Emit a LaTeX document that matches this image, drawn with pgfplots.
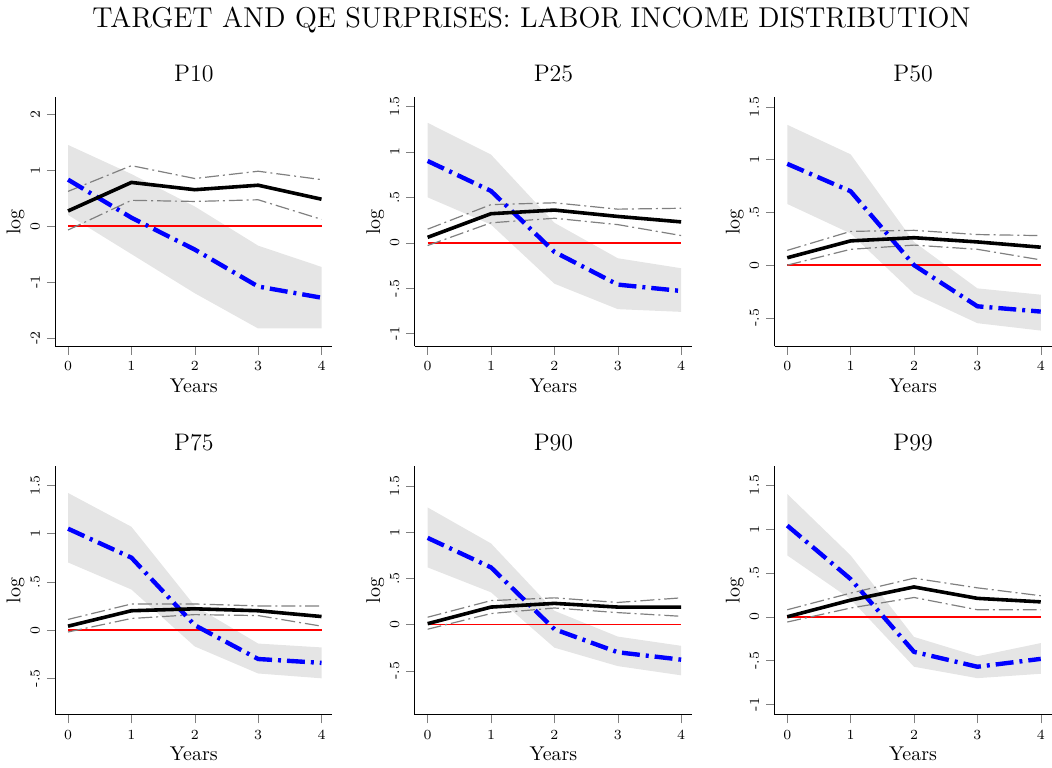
\documentclass[border=0pt]{standalone}
\usepackage{pgfplots}
\pgfplotsset{compat=1.18}
\usepgfplotslibrary{groupplots}
\definecolor{band}{RGB}{229,229,229}
\definecolor{ci}{RGB}{128,128,128}
\pgfplotsset{
 panel/.style={
  scale only axis, width=139pt, height=125pt,
  axis x line*=bottom, axis y line*=left,
  xmin=-0.2, xmax=4.17, xtick={0,1,2,3,4},
  tick align=outside, tick pos=lower,
  ticklabel style={font=\scriptsize},
  y tick label style={rotate=90, anchor=south},
  xlabel={Years}, ylabel={log},
  xlabel style={font=\normalsize, yshift=3pt},
  ylabel style={font=\normalsize, yshift=-4pt},
  title style={font=\large, yshift=-2pt},
  axis line style={black, line width=0.5pt},
 },
 bandst/.style={fill=band, draw=none, forget plot},
 cist/.style={draw=ci, line width=0.6pt, dash pattern=on 7pt off 2pt on 1pt off 2pt},
 bluest/.style={draw=blue, line width=2.2pt, dash pattern=on 9pt off 3pt on 1.5pt off 3pt},
 blackst/.style={draw=black, line width=1.8pt},
 redst/.style={color=red, line width=0.8pt, mark=none},
}
\begin{document}
\begin{tikzpicture}
\begin{groupplot}[group style={group size=3 by 2, horizontal sep=41.5pt, vertical sep=60pt}, panel]
% P10
\nextgroupplot[title={P10}, ymin=-2.15, ymax=2.3, ytick={-2,-1,0,1,2}, yticklabels={-2,-1,0,1,2}]
\addplot[bandst] coordinates {(0,1.45)(1,0.93)(2,0.35)(3,-0.35)(4,-0.73)(4,-1.83)(3,-1.83)(2,-1.2)(1,-0.5)(0,0.2)};
\addplot[redst] coordinates {(0,0)(4,0)};
\addplot[cist] coordinates {(0,0.62)(1,1.08)(2,0.85)(3,0.98)(4,0.83)};
\addplot[cist] coordinates {(0,-0.07)(1,0.46)(2,0.44)(3,0.47)(4,0.12)};
\addplot[bluest] coordinates {(0,0.83)(1,0.15)(2,-0.42)(3,-1.08)(4,-1.28)};
\addplot[blackst] coordinates {(0,0.27)(1,0.78)(2,0.65)(3,0.73)(4,0.48)};
% P25
\nextgroupplot[title={P25}, ymin=-1.14, ymax=1.6, ytick={-1,-0.5,0,0.5,1,1.5}, yticklabels={-1,-.5,0,.5,1,1.5}]
\addplot[bandst] coordinates {(0,1.32)(1,0.97)(2,0.22)(3,-0.17)(4,-0.28)(4,-0.76)(3,-0.73)(2,-0.45)(1,0.2)(0,0.5)};
\addplot[redst] coordinates {(0,0)(4,0)};
\addplot[cist] coordinates {(0,0.15)(1,0.42)(2,0.44)(3,0.37)(4,0.38)};
\addplot[cist] coordinates {(0,-0.03)(1,0.22)(2,0.27)(3,0.20)(4,0.08)};
\addplot[bluest] coordinates {(0,0.9)(1,0.57)(2,-0.1)(3,-0.46)(4,-0.53)};
\addplot[blackst] coordinates {(0,0.06)(1,0.32)(2,0.36)(3,0.29)(4,0.23)};
% P50
\nextgroupplot[title={P50}, ymin=-0.77, ymax=1.59, ytick={-0.5,0,0.5,1,1.5}, yticklabels={-.5,0,.5,1,1.5}]
\addplot[bandst] coordinates {(0,1.33)(1,1.05)(2,0.22)(3,-0.22)(4,-0.28)(4,-0.62)(3,-0.55)(2,-0.27)(1,0.3)(0,0.58)};
\addplot[redst] coordinates {(0,0)(4,0)};
\addplot[cist] coordinates {(0,0.14)(1,0.32)(2,0.33)(3,0.29)(4,0.28)};
\addplot[cist] coordinates {(0,0.0)(1,0.15)(2,0.19)(3,0.15)(4,0.05)};
\addplot[bluest] coordinates {(0,0.96)(1,0.7)(2,0.0)(3,-0.39)(4,-0.44)};
\addplot[blackst] coordinates {(0,0.07)(1,0.23)(2,0.26)(3,0.22)(4,0.17)};
% P75
\nextgroupplot[title={P75}, ymin=-0.88, ymax=1.7, ytick={-0.5,0,0.5,1,1.5}, yticklabels={-.5,0,.5,1,1.5}]
\addplot[bandst] coordinates {(0,1.42)(1,1.07)(2,0.25)(3,-0.14)(4,-0.18)(4,-0.5)(3,-0.45)(2,-0.17)(1,0.42)(0,0.7)};
\addplot[redst] coordinates {(0,0)(4,0)};
\addplot[cist] coordinates {(0,0.11)(1,0.27)(2,0.27)(3,0.25)(4,0.25)};
\addplot[cist] coordinates {(0,-0.02)(1,0.12)(2,0.16)(3,0.15)(4,0.04)};
\addplot[bluest] coordinates {(0,1.05)(1,0.75)(2,0.05)(3,-0.3)(4,-0.34)};
\addplot[blackst] coordinates {(0,0.04)(1,0.2)(2,0.22)(3,0.2)(4,0.14)};
% P90
\nextgroupplot[title={P90}, ymin=-0.98, ymax=1.72, ytick={-0.5,0,0.5,1,1.5}, yticklabels={-.5,0,.5,1,1.5}]
\addplot[bandst] coordinates {(0,1.27)(1,0.88)(2,0.15)(3,-0.13)(4,-0.23)(4,-0.55)(3,-0.45)(2,-0.25)(1,0.35)(0,0.62)};
\addplot[redst] coordinates {(0,0)(4,0)};
\addplot[cist] coordinates {(0,0.08)(1,0.26)(2,0.29)(3,0.24)(4,0.29)};
\addplot[cist] coordinates {(0,-0.05)(1,0.12)(2,0.18)(3,0.13)(4,0.09)};
\addplot[bluest] coordinates {(0,0.94)(1,0.62)(2,-0.05)(3,-0.3)(4,-0.38)};
\addplot[blackst] coordinates {(0,0.01)(1,0.19)(2,0.23)(3,0.19)(4,0.19)};
% P99
\nextgroupplot[title={P99}, ymin=-1.12, ymax=1.72, ytick={-1,-0.5,0,0.5,1,1.5}, yticklabels={-1,-.5,0,.5,1,1.5}]
\addplot[bandst] coordinates {(0,1.4)(1,0.7)(2,-0.23)(3,-0.45)(4,-0.3)(4,-0.65)(3,-0.7)(2,-0.57)(1,0.2)(0,0.7)};
\addplot[redst] coordinates {(0,0)(4,0)};
\addplot[cist] coordinates {(0,0.08)(1,0.27)(2,0.44)(3,0.33)(4,0.24)};
\addplot[cist] coordinates {(0,-0.06)(1,0.1)(2,0.22)(3,0.08)(4,0.08)};
\addplot[bluest] coordinates {(0,1.04)(1,0.43)(2,-0.4)(3,-0.57)(4,-0.48)};
\addplot[blackst] coordinates {(0,0.0)(1,0.19)(2,0.34)(3,0.21)(4,0.17)};
\end{groupplot}
\path (group c2r1.north) ++(-11pt,39pt) node[font=\Large] {TARGET AND QE SURPRISES: LABOR INCOME DISTRIBUTION};
\end{tikzpicture}
\end{document}
